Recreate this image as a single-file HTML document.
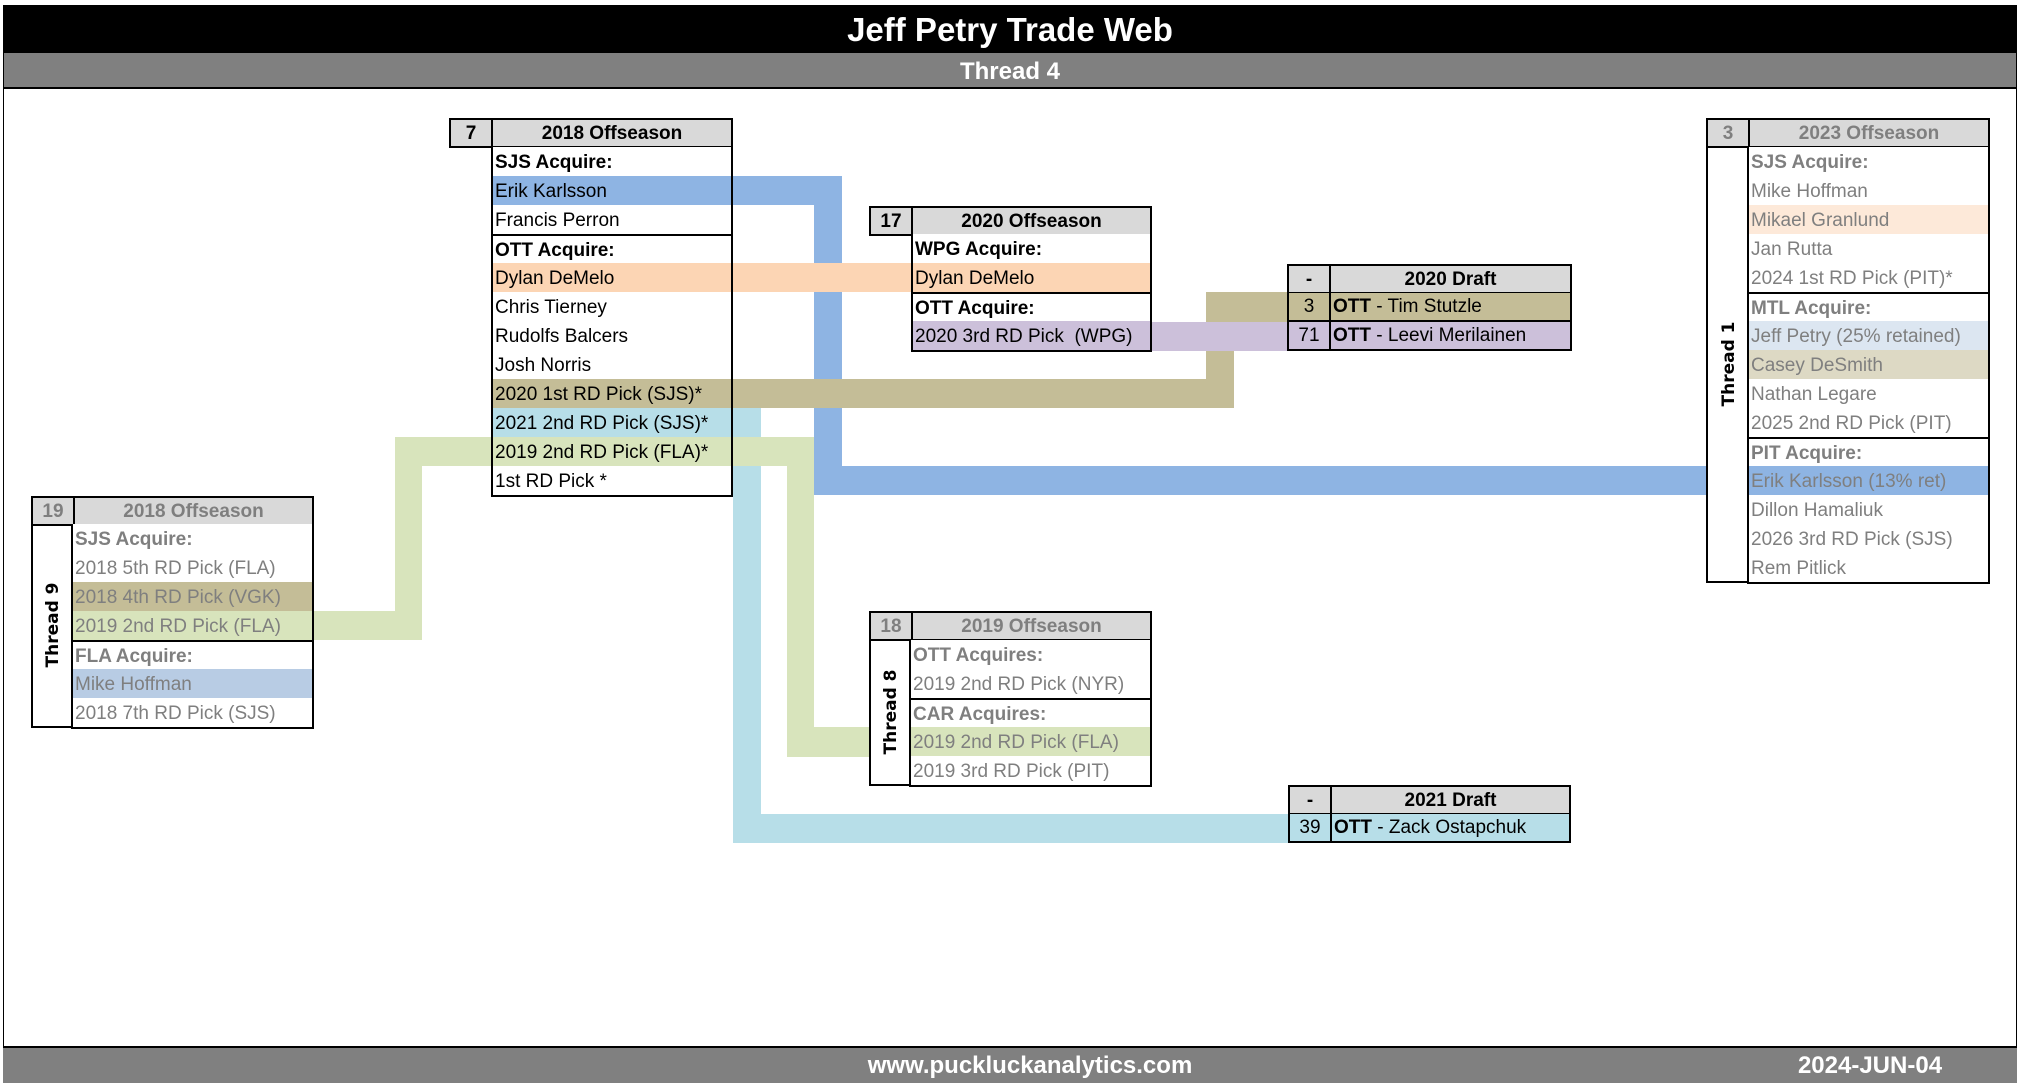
<!DOCTYPE html>
<html><head><meta charset="utf-8">
<style>
*{box-sizing:border-box;margin:0;padding:0}
body{width:2019px;height:1086px;position:relative;background:#fff;font-family:"Liberation Sans Narrow","Liberation Sans",sans-serif;overflow:hidden}
.a{position:absolute}
.hd{position:absolute;height:30px;border:2px solid #000;background:#d9d9d9;display:flex;font-weight:bold;font-size:19px;line-height:28px}
.hd .n{width:42px;border-right:2px solid #000;text-align:center}
.hd .t{flex:1;text-align:center}
.bd{position:absolute;border:2px solid #000;border-top:none}
.r{height:29px;line-height:31px;padding-left:2px;font-size:19px;white-space:nowrap}
.s{border-top:2px solid #000;line-height:29px}
.b{font-weight:bold}
.g{color:#7f7f7f}
.lab{position:absolute;border:2px solid #000;border-top:none;border-right:none}
.lab span{position:absolute;left:50%;top:50%;transform:translate(-50%,-50%) rotate(-90deg);font-family:"DejaVu Sans","Liberation Sans",sans-serif;font-weight:bold;font-size:17px;color:#000;white-space:nowrap}
.dr{position:absolute;height:29px;border:2px solid #000;border-top:none;display:flex;font-size:19px;line-height:28px}
.dr .n{width:42px;border-right:2px solid #000;text-align:center}
.dr .t{flex:1;padding-left:2px;white-space:nowrap}
</style></head><body>
<div class="a" style="left:3px;top:5px;width:2014px;height:48px;background:#000;color:#fff;font-weight:bold;font-size:33px;text-align:center;line-height:50px">Jeff Petry Trade Web</div>
<div class="a" style="left:3px;top:53px;width:2014px;height:36px;background:#808080;border-bottom:2px solid #000;color:#fff;font-weight:bold;font-size:24px;text-align:center;line-height:38px">Thread 4</div>
<div class="a" style="left:3px;top:53px;width:1px;height:1030px;background:#000"></div>
<div class="a" style="left:2016px;top:53px;width:1px;height:1030px;background:#000"></div>
<div class="a" style="left:3px;top:1046px;width:2014px;height:37px;background:#808080;border-top:2px solid #000;color:#fff;font-weight:bold;font-size:24px;line-height:36px;white-space:nowrap">
<span class="a" style="left:0;width:2054px;text-align:center">www.puckluckanalytics.com</span>
<span class="a" style="left:1767px;width:200px;text-align:center">2024-JUN-04</span></div>

<div class="a" style="left:733px;top:176px;width:109px;height:29px;background:#8eb4e3"></div>
<div class="a" style="left:814px;top:176px;width:28px;height:319px;background:#8eb4e3"></div>
<div class="a" style="left:814px;top:466px;width:892px;height:29px;background:#8eb4e3"></div>

<div class="a" style="left:733px;top:408px;width:28px;height:435px;background:#b7dee8"></div>
<div class="a" style="left:733px;top:814px;width:555px;height:29px;background:#b7dee8"></div>

<div class="a" style="left:314px;top:611px;width:108px;height:29px;background:#d8e4bc"></div>
<div class="a" style="left:395px;top:437px;width:27px;height:203px;background:#d8e4bc"></div>
<div class="a" style="left:395px;top:437px;width:419px;height:29px;background:#d8e4bc"></div>
<div class="a" style="left:787px;top:437px;width:27px;height:320px;background:#d8e4bc"></div>
<div class="a" style="left:787px;top:727px;width:82px;height:30px;background:#d8e4bc"></div>

<div class="a" style="left:733px;top:379px;width:501px;height:29px;background:#c4bd97"></div>
<div class="a" style="left:1206px;top:292px;width:28px;height:116px;background:#c4bd97"></div>
<div class="a" style="left:1206px;top:292px;width:82px;height:30px;background:#c4bd97"></div>

<div class="a" style="left:733px;top:263px;width:178px;height:29px;background:#fcd5b4"></div>
<div class="a" style="left:1152px;top:322px;width:136px;height:29px;background:#ccc0da"></div>

<div class="hd" style="left:449px;top:118px;width:284px"><div class="n">7</div><div class="t">2018 Offseason</div></div>
<div class="bd" style="left:491px;top:147px;width:242px;background:#fff">
<div class="r b">SJS Acquire:</div>
<div class="r" style="background:#8eb4e3">Erik Karlsson</div>
<div class="r">Francis Perron</div>
<div class="r b s">OTT Acquire:</div>
<div class="r" style="background:#fcd5b4">Dylan DeMelo</div>
<div class="r">Chris Tierney</div>
<div class="r">Rudolfs Balcers</div>
<div class="r">Josh Norris</div>
<div class="r" style="background:#c4bd97">2020 1st RD Pick (SJS)*</div>
<div class="r" style="background:#b7dee8">2021 2nd RD Pick (SJS)*</div>
<div class="r" style="background:#d8e4bc">2019 2nd RD Pick (FLA)*</div>
<div class="r">1st RD Pick *</div>
</div>

<div class="hd" style="left:869px;top:206px;width:283px"><div class="n">17</div><div class="t">2020 Offseason</div></div>
<div class="bd" style="left:911px;top:234px;width:241px;background:#fff">
<div class="r b">WPG Acquire:</div>
<div class="r" style="background:#fcd5b4">Dylan DeMelo</div>
<div class="r b s">OTT Acquire:</div>
<div class="r" style="background:#ccc0da">2020 3rd RD Pick&nbsp; (WPG)</div>
</div>

<div class="hd" style="left:1287px;top:264px;width:285px"><div class="n">-</div><div class="t">2020 Draft</div></div>
<div class="dr" style="left:1287px;top:293px;width:285px;background:#c4bd97"><div class="n">3</div><div class="t"><b>OTT</b> - Tim Stutzle</div></div>
<div class="dr" style="left:1287px;top:322px;width:285px;background:#ccc0da"><div class="n">71</div><div class="t"><b>OTT</b> - Leevi Merilainen</div></div>

<div class="hd" style="left:1288px;top:785px;width:283px"><div class="n">-</div><div class="t">2021 Draft</div></div>
<div class="dr" style="left:1288px;top:814px;width:283px;background:#b7dee8"><div class="n">39</div><div class="t"><b>OTT</b> - Zack Ostapchuk</div></div>

<div class="hd g" style="left:31px;top:496px;width:283px"><div class="n">19</div><div class="t">2018 Offseason</div></div>
<div class="lab" style="left:31px;top:524px;width:42px;height:204px"><span>Thread 9</span></div>
<div class="bd g" style="left:71px;top:524px;width:243px;background:#fff">
<div class="r b">SJS Acquire:</div>
<div class="r">2018 5th RD Pick (FLA)</div>
<div class="r" style="background:#c4bd97">2018 4th RD Pick (VGK)</div>
<div class="r" style="background:#d8e4bc">2019 2nd RD Pick (FLA)</div>
<div class="r b s">FLA Acquire:</div>
<div class="r" style="background:#b8cce4">Mike Hoffman</div>
<div class="r">2018 7th RD Pick (SJS)</div>
</div>

<div class="hd g" style="left:869px;top:611px;width:283px"><div class="n">18</div><div class="t">2019 Offseason</div></div>
<div class="lab" style="left:869px;top:640px;width:42px;height:146px"><span>Thread 8</span></div>
<div class="bd g" style="left:909px;top:640px;width:243px;background:#fff">
<div class="r b">OTT Acquires:</div>
<div class="r">2019 2nd RD Pick (NYR)</div>
<div class="r b s">CAR Acquires:</div>
<div class="r" style="background:#d8e4bc">2019 2nd RD Pick (FLA)</div>
<div class="r">2019 3rd RD Pick (PIT)</div>
</div>

<div class="hd g" style="left:1706px;top:118px;width:284px"><div class="n">3</div><div class="t">2023 Offseason</div></div>
<div class="lab" style="left:1706px;top:147px;width:43px;height:436px"><span>Thread 1</span></div>
<div class="bd g" style="left:1747px;top:147px;width:243px;background:#fff">
<div class="r b">SJS Acquire:</div>
<div class="r">Mike Hoffman</div>
<div class="r" style="background:#fde9d9">Mikael Granlund</div>
<div class="r">Jan Rutta</div>
<div class="r">2024 1st RD Pick (PIT)*</div>
<div class="r b s">MTL Acquire:</div>
<div class="r" style="background:#dce6f1">Jeff Petry (25% retained)</div>
<div class="r" style="background:#ddd9c4">Casey DeSmith</div>
<div class="r">Nathan Legare</div>
<div class="r">2025 2nd RD Pick (PIT)</div>
<div class="r b s">PIT Acquire:</div>
<div class="r" style="background:#8eb4e3">Erik Karlsson (13% ret)</div>
<div class="r">Dillon Hamaliuk</div>
<div class="r">2026 3rd RD Pick (SJS)</div>
<div class="r">Rem Pitlick</div>
</div>
</body></html>
